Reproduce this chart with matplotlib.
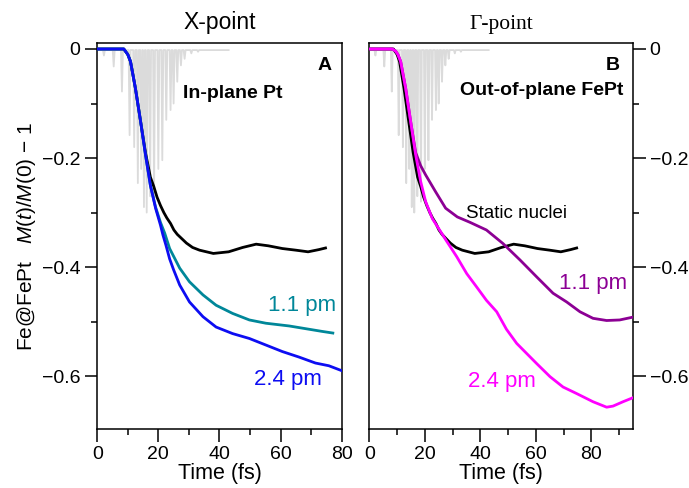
import matplotlib
matplotlib.use("Agg")
import matplotlib.pyplot as plt
import numpy as np
from matplotlib.ticker import MultipleLocator

plt.rcParams['font.family'] = ['Liberation Sans', 'DejaVu Sans']
plt.rcParams['mathtext.fontset'] = 'custom'
plt.rcParams['mathtext.rm'] = 'Liberation Sans'
plt.rcParams['mathtext.it'] = 'Liberation Sans:italic'

# gray pump pulse trace (spike centres and depths)
spike_t = [2.2, 5.4, 8.1, 10.6, 12.1, 13.3, 14.4, 15.3, 16.2, 17.3, 18.6,
           20.0, 21.3, 22.6, 24.0, 25.0, 26.2, 27.4, 28.6, 30.8, 33.0]
spike_d = [-0.012, -0.032, -0.078, -0.158, -0.18, -0.246, -0.22, -0.29,
           -0.30, -0.27, -0.28, -0.22, -0.204, -0.13, -0.112, -0.10, -0.06,
           -0.03, -0.018, -0.008, -0.005]
pulse_end = 43.0

# static nuclei (black), same in both panels
t_static = [0, 8.7, 10, 10.9, 12.5, 14.2, 15.8, 17.4, 18.5, 19.6, 20.7, 21.8,
            22.8, 24, 25.1, 26.2, 29.2, 31.2, 33.5, 38, 43, 47.6, 52, 56,
            60.6, 65, 69, 72.5, 74.7]
m_static = [0, 0, -0.01, -0.023, -0.072, -0.133, -0.19, -0.235, -0.252,
            -0.272, -0.287, -0.30, -0.31, -0.32, -0.332, -0.34, -0.356,
            -0.364, -0.369, -0.375, -0.372, -0.364, -0.358, -0.361, -0.366,
            -0.369, -0.372, -0.368, -0.365]

# X-point, in-plane Pt, 2.4 pm (blue)
t_x24 = [0, 8.7, 10, 10.9, 12.5, 14.2, 15.8, 17.4, 19.1, 20.7, 21.5, 22.5,
         23.7, 25, 27, 30.2, 34.6, 38.9, 44.3, 49.8, 55.2, 60.6, 66, 71.4,
         75.8, 80]
m_x24 = [0, 0, -0.01, -0.023, -0.072, -0.133, -0.194, -0.25, -0.292, -0.323,
         -0.341, -0.36, -0.385, -0.405, -0.433, -0.464, -0.491, -0.51, -0.522,
         -0.531, -0.543, -0.555, -0.565, -0.576, -0.581, -0.59]

# X-point, in-plane Pt, 1.1 pm (teal)
t_x11 = [0, 8.7, 10, 10.9, 12.5, 14.2, 15.8, 17.4, 19.1, 20.7, 22.1, 23.7,
         27, 30.2, 34.6, 38.9, 44.3, 49.8, 55.2, 62.8, 68.2, 73.6, 77.1]
m_x11 = [0, 0, -0.01, -0.023, -0.072, -0.133, -0.194, -0.25, -0.29, -0.318,
         -0.338, -0.366, -0.402, -0.427, -0.451, -0.47, -0.485, -0.497,
         -0.503, -0.508, -0.513, -0.518, -0.521]

# Gamma-point, out-of-plane FePt, 2.4 pm (magenta)
t_g24 = [0, 8.3, 9.5, 10.3, 11.3, 13.1, 14.9, 16.7, 18.5, 20.3, 22.7, 25.7,
         27.8, 31.5, 35.1, 38.6, 42.2, 45.9, 49.4, 53.1, 56.6, 60.3, 65.1,
         69.8, 74.7, 80.6, 85.5, 87.8, 91.4, 94.8]
m_g24 = [0, 0, -0.004, -0.01, -0.023, -0.072, -0.133, -0.194, -0.243, -0.28,
         -0.311, -0.335, -0.352, -0.381, -0.412, -0.436, -0.461, -0.482,
         -0.514, -0.54, -0.558, -0.577, -0.601, -0.62, -0.632, -0.647, -0.657,
         -0.655, -0.647, -0.640]

# Gamma-point, out-of-plane FePt, 1.1 pm (purple)
t_g11 = [0, 8.3, 9.5, 10.3, 11.3, 13.1, 14.9, 16.7, 18.5, 20.3, 23.9, 27.5,
         31.7, 36.3, 42.2, 48.2, 54.3, 60.3, 66.2, 71.1, 75.9, 80.6, 85.5,
         90.2, 94.8]
m_g11 = [0, 0, -0.004, -0.01, -0.023, -0.072, -0.133, -0.19, -0.214, -0.231,
         -0.262, -0.292, -0.308, -0.318, -0.332, -0.357, -0.387, -0.418,
         -0.448, -0.464, -0.482, -0.494, -0.498, -0.497, -0.492]

# build gray comb from the spikes
gx = [0.0]
gy = [-0.002]
for t, d in zip(spike_t, spike_d):
    gx += [t - 0.32, t, t + 0.32]
    gy += [-0.002, d, -0.002]
gx.append(pulse_end)
gy.append(-0.002)

gray = (0.86, 0.86, 0.86)
blue = (0.05, 0.05, 0.95)
teal = (0.0, 0.53, 0.6)
magenta = (1.0, 0.0, 1.0)
purple = (0.55, 0.0, 0.58)

fig = plt.figure(figsize=(6.89, 4.88), dpi=100)
axA = fig.add_axes([97.2 / 689, 59 / 488, 244.5 / 689, 386 / 488])
axB = fig.add_axes([369.3 / 689, 59 / 488, 263.7 / 689, 386 / 488])

for ax in (axA, axB):
    ax.plot(gx, gy, color=gray, lw=1.3, zorder=1)
    ax.set_ylim(-0.697, 0.011)
    ax.yaxis.set_major_locator(MultipleLocator(0.2))
    ax.yaxis.set_minor_locator(MultipleLocator(0.1))
    ax.xaxis.set_major_locator(MultipleLocator(20))
    ax.xaxis.set_minor_locator(MultipleLocator(10))
    ax.tick_params(which='major', direction='out', length=9, width=1.1,
                   labelsize=14)
    ax.tick_params(which='minor', direction='out', length=4.5, width=1.1)
    ax.tick_params(axis='x', which='major', pad=3.5)
    ax.tick_params(axis='y', which='major', pad=3)
    for s in ax.spines.values():
        s.set_linewidth(1.1)
    ax.set_xlabel("Time (fs)", fontsize=15.5, labelpad=0)

axA.set_xlim(0, 80)
axA.plot(t_static, m_static, color='black', lw=2.0, zorder=2)
axA.plot(t_x11, m_x11, color=teal, lw=2.0, zorder=3)
axA.plot(t_x24, m_x24, color=blue, lw=2.0, zorder=4)
axA.set_yticks([0, -0.2, -0.4, -0.6])
axA.set_yticklabels(["0", "\u22120.2", "\u22120.4", "\u22120.6"])
axA.set_ylabel(r"Fe@FePt   $M(t)/M(0)$ $-$ 1", fontsize=15, labelpad=2.5)
axA.set_title("X-point", fontsize=16.5, pad=10)
axA.text(0.9, 0.965, "A", transform=axA.transAxes, fontsize=14,
         fontweight='bold', va='top', ha='left')
axA.text(0.352, 0.87, "In-plane Pt", transform=axA.transAxes, fontsize=14,
         fontweight='bold', va='center', ha='left')
axA.text(0.70, 0.32, "1.1 pm", transform=axA.transAxes, fontsize=16,
         color=teal, va='center', ha='left')
axA.text(0.643, 0.127, "2.4 pm", transform=axA.transAxes, fontsize=16,
         color=blue, va='center', ha='left')

axB.set_xlim(0, 95)
axB.plot(t_static, m_static, color='black', lw=2.0, zorder=2)
axB.plot(t_g11, m_g11, color=purple, lw=2.0, zorder=3)
axB.plot(t_g24, m_g24, color=magenta, lw=2.0, zorder=4)
axB.yaxis.tick_right()
axB.set_yticks([0, -0.2, -0.4, -0.6])
axB.set_yticklabels(["0", "\u22120.2", "\u22120.4", "\u22120.6"])
axB.set_title("\u0393-point", fontsize=15.5, pad=10,
              family=['Liberation Serif', 'DejaVu Serif'])
axB.text(0.895, 0.965, "B", transform=axB.transAxes, fontsize=14,
         fontweight='bold', va='top', ha='left')
axB.text(0.345, 0.878, "Out-of-plane FePt", transform=axB.transAxes,
         fontsize=14, fontweight='bold', va='center', ha='left')
axB.text(0.367, 0.558, "Static nuclei", transform=axB.transAxes, fontsize=13.5,
         va='center', ha='left')
axB.text(0.72, 0.376, "1.1 pm", transform=axB.transAxes, fontsize=16,
         color=purple, va='center', ha='left')
axB.text(0.375, 0.122, "2.4 pm", transform=axB.transAxes, fontsize=16,
         color=magenta, va='center', ha='left')

fig.savefig("out.png", dpi=100)
